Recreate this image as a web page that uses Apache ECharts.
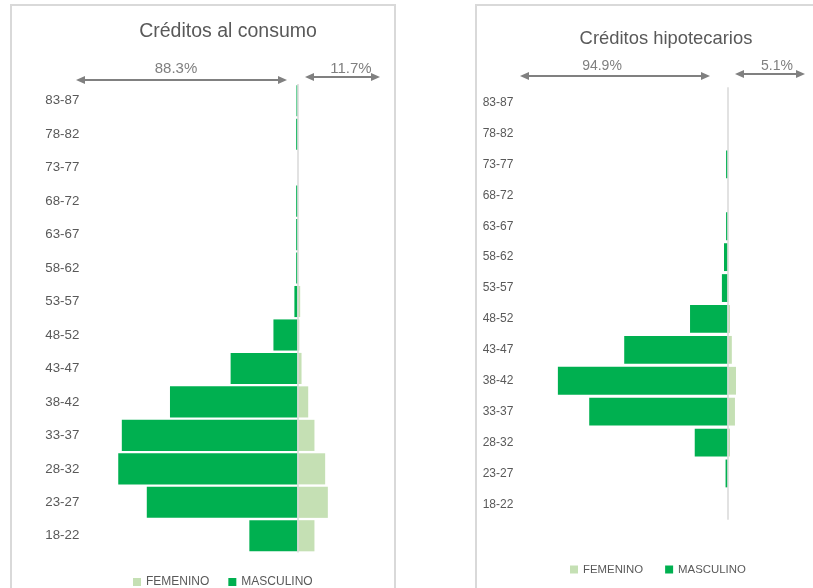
<!DOCTYPE html>
<html>
<head>
<meta charset="utf-8">
<script src="https://cdn.jsdelivr.net/npm/echarts@6/dist/echarts.min.js"></script>
<style>html,body{margin:0;padding:0;background:#fff}#c{width:813px;height:588px}</style>
</head>
<body>
<div id="c"></div>
<script>
// Age groups (bottom to top)
const categories = ['18-22','23-27','28-32','33-37','38-42','43-47','48-52','53-57','58-62','63-67','68-72','73-77','78-82','83-87'];
// Créditos al consumo (% of total)
const consumoMasculino = [5.4, 16.9, 20.1, 19.7, 14.3, 7.5, 2.7, 0.35, 0.15, 0.15, 0.15, 0, 0.15, 0.12];
const consumoFemenino  = [1.9, 3.4, 3.1, 1.9, 1.2, 0.45, 0.2, 0.3, 0.05, 0, 0, 0, 0, 0];
const consumoShares = ['88.3%', '11.7%'];
// Créditos hipotecarios (% of total)
const hipotecarioMasculino = [0, 0.4, 6.3, 26.5, 32.5, 19.8, 7.2, 1.1, 0.7, 0.3, 0, 0.3, 0, 0];
const hipotecarioFemenino  = [0, 0, 0.45, 1.4, 1.6, 0.8, 0.45, 0.15, 0.05, 0, 0, 0, 0, 0];
const hipotecarioShares = ['94.9%', '5.1%'];
const seriesNames = ['FEMENINO', 'MASCULINO'];
const titles = ['Créditos al consumo', 'Créditos hipotecarios'];

const FONT = 'Liberation Sans';
const DARK = '#00b050', LIGHT = '#c5e0b4';

function doubleArrow(x1, x2, y) {
  const h = 9, w = 4, c = '#808080';
  return [
    {type:'line', silent:true, shape:{x1:x1+h-1, y1:y, x2:x2-h+1, y2:y}, style:{stroke:c, lineWidth:2}},
    {type:'polygon', silent:true, shape:{points:[[x1,y],[x1+h,y-w],[x1+h,y+w]]}, style:{fill:c}},
    {type:'polygon', silent:true, shape:{points:[[x2,y],[x2-h,y-w],[x2-h,y+w]]}, style:{fill:c}}
  ];
}
function shareText(txt, x, y, size) {
  return {type:'text', silent:true, x:x, y:y, style:{text:txt, fill:'#7f7f7f', fontSize:size, fontFamily:FONT, align:'center', verticalAlign:'middle'}};
}
const neg = a => a.map(v => -v);

const chart = echarts.init(document.getElementById('c'), null, {renderer:'canvas'});
const zeroLine = {silent:true, symbol:'none', label:{show:false}, lineStyle:{color:'#d9d9d9', width:1.5, type:'solid'}, data:[{xAxis:0}]};

chart.setOption({
  animation:false,
  textStyle:{fontFamily:FONT},
  title:[
    {text:titles[0], left:223, top:17, textAlign:'center', textStyle:{fontSize:19.5, fontWeight:'normal', color:'#595959', fontFamily:FONT}},
    {text:titles[1], left:661, top:25, textAlign:'center', textStyle:{fontSize:18.4, fontWeight:'normal', color:'#595959', fontFamily:FONT}}
  ],
  legend:[
    {data:seriesNames, left:128, top:571, icon:'rect', itemWidth:8, itemHeight:8, itemGap:19, textStyle:{fontSize:12, color:'#595959', fontFamily:FONT}, selectedMode:false},
    {data:seriesNames, left:565, top:559, icon:'rect', itemWidth:8, itemHeight:8, itemGap:22, textStyle:{fontSize:11.4, color:'#595959', fontFamily:FONT}, selectedMode:false}
  ],
  grid:[
    {left:101.3, right:426.3, top:84, bottom:35.5},
    {left:518.7, right:7, top:87.2, bottom:68.2}
  ],
  xAxis:[
    {gridIndex:0, type:'value', min:-22, max:10, show:false},
    {gridIndex:1, type:'value', min:-40, max:15, show:false}
  ],
  yAxis:[
    {gridIndex:0, type:'category', data:categories, axisLine:{show:false}, axisTick:{show:false},
     axisLabel:{align:'left', margin:56, fontSize:13.3, color:'#595959', fontFamily:FONT}},
    {gridIndex:1, type:'category', data:categories, axisLine:{show:false}, axisTick:{show:false},
     axisLabel:{align:'left', margin:36, fontSize:12, color:'#595959', fontFamily:FONT}}
  ],
  series:[
    {name:seriesNames[1], type:'bar', xAxisIndex:0, yAxisIndex:0, data:neg(consumoMasculino), itemStyle:{color:DARK}, barCategoryGap:'7%', barGap:'-100%', markLine:zeroLine},
    {name:seriesNames[0], type:'bar', xAxisIndex:0, yAxisIndex:0, data:consumoFemenino, itemStyle:{color:LIGHT}, barCategoryGap:'7%', barGap:'-100%'},
    {name:seriesNames[1], type:'bar', xAxisIndex:1, yAxisIndex:1, data:neg(hipotecarioMasculino), itemStyle:{color:DARK}, barCategoryGap:'10%', barGap:'-100%', markLine:zeroLine},
    {name:seriesNames[0], type:'bar', xAxisIndex:1, yAxisIndex:1, data:hipotecarioFemenino, itemStyle:{color:LIGHT}, barCategoryGap:'10%', barGap:'-100%'}
  ],
  graphic:[
    {type:'rect', silent:true, z:-1, shape:{x:11, y:5, width:384, height:600}, style:{fill:'none', stroke:'#d9d9d9', lineWidth:2}},
    {type:'rect', silent:true, z:-1, shape:{x:476, y:5, width:400, height:600}, style:{fill:'none', stroke:'#d9d9d9', lineWidth:2}},
    ...doubleArrow(76, 287, 80),
    ...doubleArrow(305, 380, 77),
    shareText(consumoShares[0], 176, 69, 15),
    shareText(consumoShares[1], 351, 69, 15),
    ...doubleArrow(520, 710, 76),
    ...doubleArrow(735, 805, 74),
    shareText(hipotecarioShares[0], 602, 66, 14),
    shareText(hipotecarioShares[1], 777, 66, 14)
  ]
});
</script>
</body>
</html>
